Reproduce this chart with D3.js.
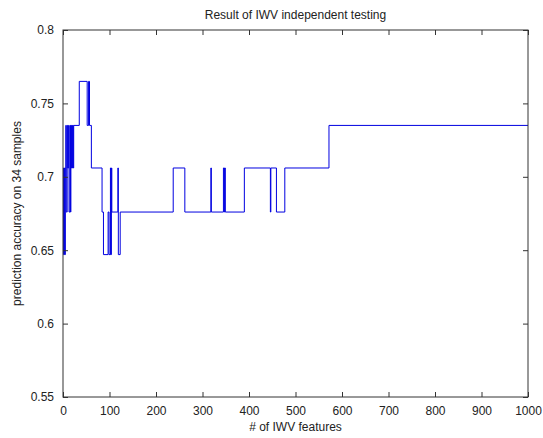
<!DOCTYPE html>
<html>
<head>
<meta charset="utf-8">
<script src="https://d3js.org/d3.v7.min.js"></script>
<style>
  body { margin: 0; background: #fff; }
  svg { display: block; font-family: "Liberation Sans", Arial, sans-serif; }
</style>
</head>
<body>
<div id="chart"></div>
<script>
// step points: accuracy changes to value at given feature count
const featureCounts = [0, 1, 3, 4, 5, 6, 7, 9, 10, 12, 13, 15, 16, 17, 18, 19, 20, 21, 22, 23,
  35, 52, 55, 57, 61, 84, 87, 97, 99, 102, 103, 104, 105, 118, 119, 123,
  237, 262, 318, 319, 345, 347, 348, 349, 390, 446, 447, 459, 477, 572, 1000];
const accuracies = [0.706, 0.647, 0.706, 0.647, 0.706, 0.735, 0.676, 0.735, 0.706, 0.735, 0.676, 0.735, 0.676, 0.735, 0.706, 0.735, 0.706, 0.735, 0.706, 0.735,
  0.765, 0.735, 0.765, 0.735, 0.706, 0.676, 0.647, 0.676, 0.647, 0.706, 0.647, 0.706, 0.676, 0.706, 0.647, 0.676,
  0.706, 0.676, 0.706, 0.676, 0.706, 0.676, 0.706, 0.676, 0.706, 0.676, 0.706, 0.676, 0.706, 0.735, 0.735];
const xTicks = [0, 100, 200, 300, 400, 500, 600, 700, 800, 900, 1000];
const yTicks = [0.55, 0.6, 0.65, 0.7, 0.75, 0.8];

const W = 543, H = 438;
const margin = { top: 30, right: 15, bottom: 41, left: 63 };
const width = W - margin.left - margin.right;
const height = H - margin.top - margin.bottom;

const svg = d3.select("#chart").append("svg")
  .attr("width", W)
  .attr("height", H);

const g = svg.append("g")
  .attr("transform", `translate(${margin.left},${margin.top})`);

const x = d3.scaleLinear().domain([0, 1000]).range([0, width]);
const y = d3.scaleLinear().domain([0.55, 0.8]).range([height, 0]);

const data = featureCounts.map((d, i) => ({ n: d, acc: accuracies[i] }));

// data line
const line = d3.line()
  .x(d => x(d.n))
  .y(d => y(d.acc))
  .curve(d3.curveStepAfter);

g.append("path")
  .datum(data)
  .attr("fill", "none")
  .attr("stroke", "#0000e0")
  .attr("stroke-width", 1)
  .attr("d", line);

// axes, matlab-like box with inward ticks
const tickLen = 5;
const fmtY = d => String(+d.toFixed(2));

const styleAxis = sel => {
  sel.selectAll(".domain").remove();
  sel.selectAll("line").attr("stroke", "#333");
  sel.selectAll("text")
    .style("font-family", "'Liberation Sans', Arial, sans-serif")
    .style("font-size", "12px")
    .attr("fill", "#222");
};

g.append("g")
  .attr("transform", `translate(0,${height})`)
  .call(d3.axisBottom(x).tickValues(xTicks).tickSize(-tickLen).tickPadding(9).tickFormat(d3.format("d")))
  .call(styleAxis);

g.append("g")
  .call(d3.axisTop(x).tickValues(xTicks).tickSize(-tickLen).tickFormat(""))
  .call(styleAxis);

g.append("g")
  .call(d3.axisLeft(y).tickValues(yTicks).tickSize(-tickLen).tickPadding(9).tickFormat(fmtY))
  .call(styleAxis);

g.append("g")
  .attr("transform", `translate(${width},0)`)
  .call(d3.axisRight(y).tickValues(yTicks).tickSize(-tickLen).tickFormat(""))
  .call(styleAxis);

// box
g.append("rect")
  .attr("x", 0).attr("y", 0)
  .attr("width", width).attr("height", height)
  .attr("fill", "none")
  .attr("stroke", "#333")
  .attr("stroke-width", 1);

// title and labels
svg.append("text")
  .attr("x", margin.left + width / 2)
  .attr("y", 19)
  .attr("text-anchor", "middle")
  .style("font-size", "12px")
  .attr("fill", "#222")
  .text("Result of IWV independent testing");

svg.append("text")
  .attr("x", margin.left + width / 2)
  .attr("y", 431)
  .attr("text-anchor", "middle")
  .style("font-size", "12px")
  .attr("fill", "#222")
  .text("# of IWV features");

svg.append("text")
  .attr("transform", `translate(21,${margin.top + height / 2}) rotate(-90)`)
  .attr("text-anchor", "middle")
  .style("font-size", "12px")
  .attr("fill", "#222")
  .text("prediction accuracy on 34 samples");
</script>
</body>
</html>
